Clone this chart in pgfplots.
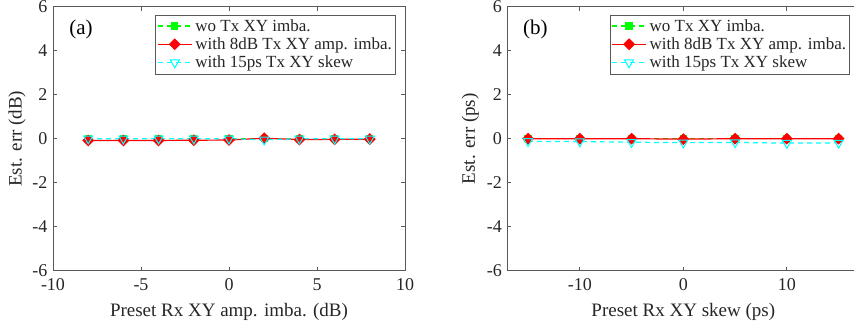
\documentclass[border=0pt]{standalone}
\usepackage{fontspec}
\setmainfont{Liberation Serif}
\usepackage{pgfplots}
\pgfplotsset{compat=1.18}
\definecolor{txt}{gray}{0.15}
\definecolor{axl}{gray}{0.35}
\definecolor{mgreen}{rgb}{0,1,0}
\definecolor{mred}{rgb}{1,0,0}
\definecolor{mcyan}{rgb}{0,1,1}
\pgfplotsset{
  panel/.style={
    scale only axis, width=352pt, height=264pt,
    ymin=-6, ymax=6, ytick={-6,-4,...,6},
    tick align=inside, major tick length=4pt,
    axis line style={axl, line width=0.7pt},
    every tick/.style={axl, line width=0.7pt},
    tick label style={font=\fontsize{18}{18}\selectfont, text=txt},
    /pgf/number format/assume math mode=true,
    every x tick label/.append style={yshift=-4pt},
    every y tick label/.append style={xshift=-2pt},
    label style={font=\fontsize{19}{19}\selectfont, text=txt},
    xlabel style={at={(axis description cs:0.5,-0.155)}, anchor=center},
    legend style={at={(0.973,0.97)}, anchor=north east, draw=axl,
      font=\fontsize{17}{17}\selectfont, text=txt,
      inner xsep=1.5pt, inner ysep=2.5pt, row sep=1pt,
      /tikz/every odd column/.append style={column sep=1pt}},
    legend cell align=left,
    legend image code/.code={\draw[mark repeat=2, mark phase=2, ##1] plot coordinates {(0pt,0pt) (17pt,0pt) (34pt,0pt)};},
  },
  gser/.style={mgreen, line width=1.2pt, dash pattern=on 5pt off 4pt, mark=square*, mark size=3pt, mark options={solid, fill=mgreen, draw=mgreen}},
  rser/.style={mred, line width=1.2pt, mark=square*, mark size=3.6pt, mark options={solid, rotate=45, fill=mred, draw=mred}},
  cser/.style={mcyan, line width=1.2pt, dash pattern=on 5pt off 4pt, mark=triangle, mark size=5.2pt, mark options={solid, rotate=180, draw=mcyan, line width=1pt}},
}
\begin{document}
\begin{tikzpicture}
\begin{axis}[panel, at={(53pt,58.3pt)}, anchor=south west,
  xmin=-10, xmax=10, xtick={-10,-5,0,5,10},
  xlabel={Preset Rx XY amp. imba. (dB)},
  ylabel={Est. err (dB)},
  ylabel style={at={(axis description cs:-0.1023,0.5)}, anchor=center}]
\addplot[gser] coordinates {(-8,0.01)(-6,0.01)(-4,0.01)(-2,0.01)(0,0.01)(2,0.01)(4,0.01)(6,0.01)(8,0.01)};
\addplot[rser] coordinates {(-8,-0.08)(-6,-0.08)(-4,-0.08)(-2,-0.07)(0,-0.06)(2,0.02)(4,-0.04)(6,-0.03)(8,-0.02)};
\addplot[cser] coordinates {(-8,0.0)(-6,0.0)(-4,0.0)(-2,0.0)(0,0.0)(2,-0.05)(4,0.0)(6,0.0)(8,0.0)};
\legend{wo Tx XY imba., with 8dB Tx XY amp. imba., with 15ps Tx XY skew}
\node[font=\fontsize{21}{21}\selectfont, text=black] at (rel axis cs:0.0795,0.912) {(a)};
\end{axis}
\begin{axis}[panel, at={(507.3pt,58.3pt)}, anchor=south west,
  xmin=-17, xmax=17, xtick={-10,0,10},
  xlabel={Preset Rx XY skew (ps)},
  ylabel={Est. err (ps)},
  ylabel style={at={(axis description cs:-0.105,0.5)}, anchor=center}]
\addplot[gser] coordinates {(-15,0.01)(-10,0.01)(-5,0.01)(0,0.01)(5,0.01)(10,0.01)(15,0.01)};
\addplot[rser] coordinates {(-15,0.0)(-10,0.0)(-5,0.0)(0,-0.02)(5,0.0)(10,0.0)(15,0.0)};
\addplot[cser] coordinates {(-15,-0.12)(-10,-0.13)(-5,-0.16)(0,-0.18)(5,-0.17)(10,-0.2)(15,-0.19)};
\legend{wo Tx XY imba., with 8dB Tx XY amp. imba., with 15ps Tx XY skew}
\node[font=\fontsize{21}{21}\selectfont, text=black] at (rel axis cs:0.0796,0.912) {(b)};
\end{axis}
\pgfresetboundingbox
\path[use as bounding box] (0,0) rectangle (854pt,329pt);
\end{tikzpicture}
\end{document}
